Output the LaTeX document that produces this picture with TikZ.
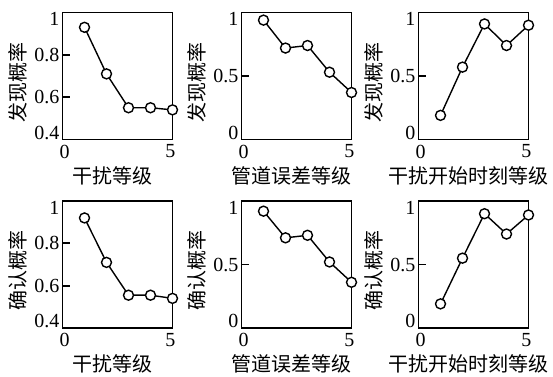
\documentclass[tikz,border=0pt]{standalone}
\usepackage{fontspec}
\setmainfont{Liberation Serif}
\newfontfamily\cjk{Noto Sans CJK SC}
\usetikzlibrary{positioning}

\tikzset{
  frame/.style={line width=1.8pt},
  tickmark/.style={line width=1.8pt},
  curve/.style={line width=1.4pt},
  ring/.style={line width=1.4pt, fill=white},
  num/.style={font=\fontsize{20}{20}\selectfont, inner sep=0pt},
  axlab/.style={font=\fontsize{20}{20}\cjk, inner sep=0pt}
}

\begin{document}
\begin{tikzpicture}[x=1pt, y=1pt]
  \useasboundingbox (0,0) rectangle (553,376);
  % six panels: shift / lowest y / inner ticks / data / labels
  \foreach \sx/\sy/\lo/\mids/\pts/\xl/\yl in {
    62.5/236.5/0.4/{0.8,0.6}/{0.93,0.71,0.55,0.55,0.54}/干扰等级/发现概率,
    241.5/236.5/0/{0.5}/{0.94,0.72,0.74,0.53,0.37}/管道误差等级/发现概率,
    418.5/236.5/0/{0.5}/{0.19,0.57,0.91,0.74,0.90}/干扰开始时刻等级/发现概率,
    62.5/48/0.4/{0.8,0.6}/{0.92,0.71,0.555,0.555,0.54}/干扰等级/确认概率,
    241.5/48/0/{0.5}/{0.92,0.71,0.73,0.52,0.36}/管道误差等级/确认概率,
    418.5/48/0/{0.5}/{0.19,0.55,0.90,0.74,0.89}/干扰开始时刻等级/确认概率}{
    \begin{scope}[shift={(\sx,\sy)}, x=22pt, y=127pt]
      \draw[frame] (0,0) rectangle (5,1);
      \foreach \t in \mids{
        \draw[tickmark] (0,{(\t-\lo)/(1-\lo)}) -- ++(7pt,0);
        \node[num, anchor=east, xshift=-3pt] (ytick) at (0,{(\t-\lo)/(1-\lo)}) {\t};
      }
      \node[num, anchor=north east, xshift=-3pt] (ytop) at (0,1) {1};
      \node[num, anchor=south east, xshift=-3pt] (ybot) at (0,0) {\lo};
      \node[num, anchor=north, yshift=-5pt] (xzero) at (0.1,0) {0};
      \node[num, anchor=north, yshift=-5pt] (xfive) at (4.9,0) {5};
      \node[axlab] (xl) at (2.25,-36pt) {\xl};
      \node[axlab, rotate=90] (yl) at (-45pt,0.45) {\yl};
      \foreach \v [count=\k] in \pts
        \coordinate (p\k) at (\k,{(\v-\lo)/(1-\lo)});
      \draw[curve] (p1) -- (p2) -- (p3) -- (p4) -- (p5);
      \foreach \k in {1,...,5}
        \draw[ring] (p\k) circle (5pt);
    \end{scope}
  }
\end{tikzpicture}
\end{document}
